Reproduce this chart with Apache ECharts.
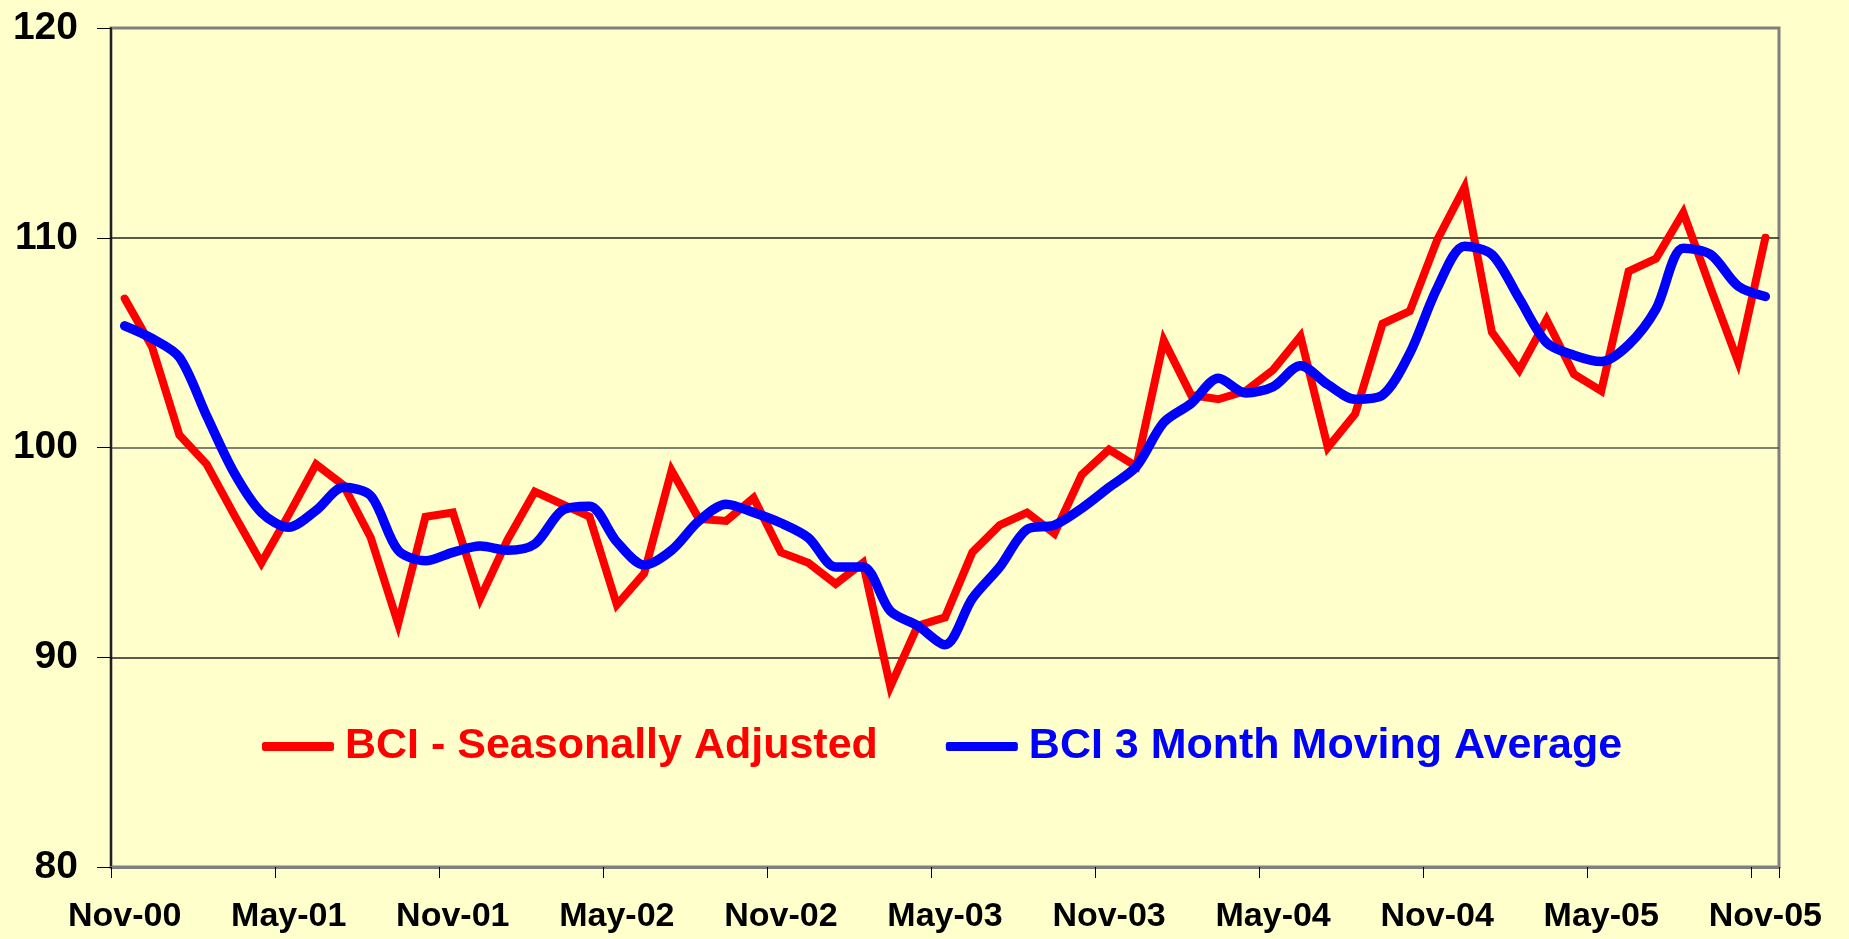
<!DOCTYPE html>
<html>
<head>
<meta charset="utf-8">
<title>BCI</title>
<script src="https://cdn.jsdelivr.net/npm/echarts@6/dist/echarts.min.js"></script>
<style>
    html, body { margin: 0; padding: 0; background: #FFFFCC; }
    #chart { width: 1849px; height: 939px; }
</style>
</head>
<body>
<div id="chart"></div>
<script>
// month categories, Nov-00 .. Nov-05
const months = [
    'Nov-00', 'Dec-00', 'Jan-01', 'Feb-01', 'Mar-01', 'Apr-01', 'May-01', 'Jun-01', 'Jul-01', 'Aug-01', 'Sep-01', 'Oct-01',
    'Nov-01', 'Dec-01', 'Jan-02', 'Feb-02', 'Mar-02', 'Apr-02', 'May-02', 'Jun-02', 'Jul-02', 'Aug-02', 'Sep-02', 'Oct-02',
    'Nov-02', 'Dec-02', 'Jan-03', 'Feb-03', 'Mar-03', 'Apr-03', 'May-03', 'Jun-03', 'Jul-03', 'Aug-03', 'Sep-03', 'Oct-03',
    'Nov-03', 'Dec-03', 'Jan-04', 'Feb-04', 'Mar-04', 'Apr-04', 'May-04', 'Jun-04', 'Jul-04', 'Aug-04', 'Sep-04', 'Oct-04',
    'Nov-04', 'Dec-04', 'Jan-05', 'Feb-05', 'Mar-05', 'Apr-05', 'May-05', 'Jun-05', 'Jul-05', 'Aug-05', 'Sep-05', 'Oct-05',
    'Nov-05'
];

// BCI - Seasonally Adjusted
const bciSeasonal = [
    107.1, 104.8, 100.6, 99.2, 96.8, 94.5, 96.8, 99.2, 98.2, 95.7, 91.6, 96.7,
    96.9, 92.8, 95.6, 97.9, 97.3, 96.7, 92.5, 94.0, 98.9, 96.6, 96.5, 97.6,
    95.0, 94.5, 93.5, 94.5, 88.6, 91.5, 91.9, 95.0, 96.3, 96.9, 95.9, 98.7,
    99.9, 99.1, 105.1, 102.5, 102.3, 102.7, 103.7, 105.3, 100.0, 101.6, 105.9, 106.5,
    109.9, 112.4, 105.5, 103.7, 106.1, 103.5, 102.7, 108.4, 109.0, 111.2, 107.6, 104.1,
    110.0
];

// BCI 3 Month Moving Average
const bciMovingAvg = [
    105.8, 105.2, 104.3, 101.5, 98.8, 96.9, 96.2, 97.0, 98.1, 97.7, 95.1, 94.6,
    95.0, 95.3, 95.1, 95.4, 97.0, 97.2, 95.5, 94.4, 95.1, 96.5, 97.3, 96.9,
    96.4, 95.7, 94.3, 94.3, 92.2, 91.5, 90.6, 92.8, 94.3, 96.1, 96.3, 97.1,
    98.1, 99.1, 101.2, 102.1, 103.3, 102.6, 102.9, 103.9, 103.0, 102.3, 102.5, 104.5,
    107.6, 109.6, 109.2, 107.1, 105.0, 104.4, 104.1, 104.9, 106.6, 109.5, 109.2, 107.7,
    107.2
];

const yMin = 80, yMax = 120, yStep = 10;
const font = "'Liberation Sans', Arial, sans-serif";

var myChart = echarts.init(document.getElementById('chart'));

var option = {
    backgroundColor: '#FFFFCC',
    animation: false,
    grid: {
        left: 111,
        right: 70,
        top: 28,
        bottom: 72,
        show: true,
        borderColor: '#808080',
        borderWidth: 3,
        backgroundColor: 'transparent',
        outerBoundsMode: 'none'
    },
    legend: {
        left: 257,
        top: 720,
        icon: 'roundRect',
        itemWidth: 72,
        itemHeight: 9,
        itemGap: 68,
        textStyle: {
            fontSize: 43,
            fontWeight: 'bold',
            fontFamily: font,
            padding: [0, 0, 0, 6]
        },
        data: [
            { name: 'BCI - Seasonally Adjusted', textStyle: { color: '#FF0000' } },
            { name: 'BCI 3 Month Moving Average', textStyle: { color: '#0000FF' } }
        ]
    },
    xAxis: {
        type: 'category',
        data: months,
        boundaryGap: true,
        axisLine: { lineStyle: { color: '#808080', width: 3 } },
        axisTick: { show: true, interval: 5, length: 11, lineStyle: { color: '#000', width: 1 } },
        axisLabel: {
            interval: 5,
            margin: 33,
            color: '#000',
            fontSize: 34,
            fontWeight: 'bold',
            fontFamily: font
        },
        splitLine: { show: false }
    },
    yAxis: {
        type: 'value',
        min: yMin,
        max: yMax,
        interval: yStep,
        axisLine: { show: true, lineStyle: { color: '#000', width: 1.5 } },
        axisTick: { show: true, length: 14, lineStyle: { color: '#000', width: 1 } },
        axisLabel: {
            margin: 33,
            color: '#000',
            fontSize: 39,
            fontWeight: 'bold',
            fontFamily: font
        },
        splitLine: { show: true, lineStyle: { color: ['#808080', '#222', '#555', '#222', '#808080'], width: 1.5 } }
    },
    series: [
        {
            name: 'BCI - Seasonally Adjusted',
            type: 'line',
            data: bciSeasonal,
            symbol: 'none',
            itemStyle: { color: '#FF0000' },
            lineStyle: { color: '#FF0000', width: 8, cap: 'round', join: 'miter' }
        },
        {
            name: 'BCI 3 Month Moving Average',
            type: 'line',
            data: bciMovingAvg,
            smooth: 0.3,
            symbol: 'none',
            itemStyle: { color: '#0000FF' },
            lineStyle: { color: '#0000FF', width: 9.5, cap: 'round', join: 'round' }
        }
    ]
};

myChart.setOption(option);
</script>
</body>
</html>
